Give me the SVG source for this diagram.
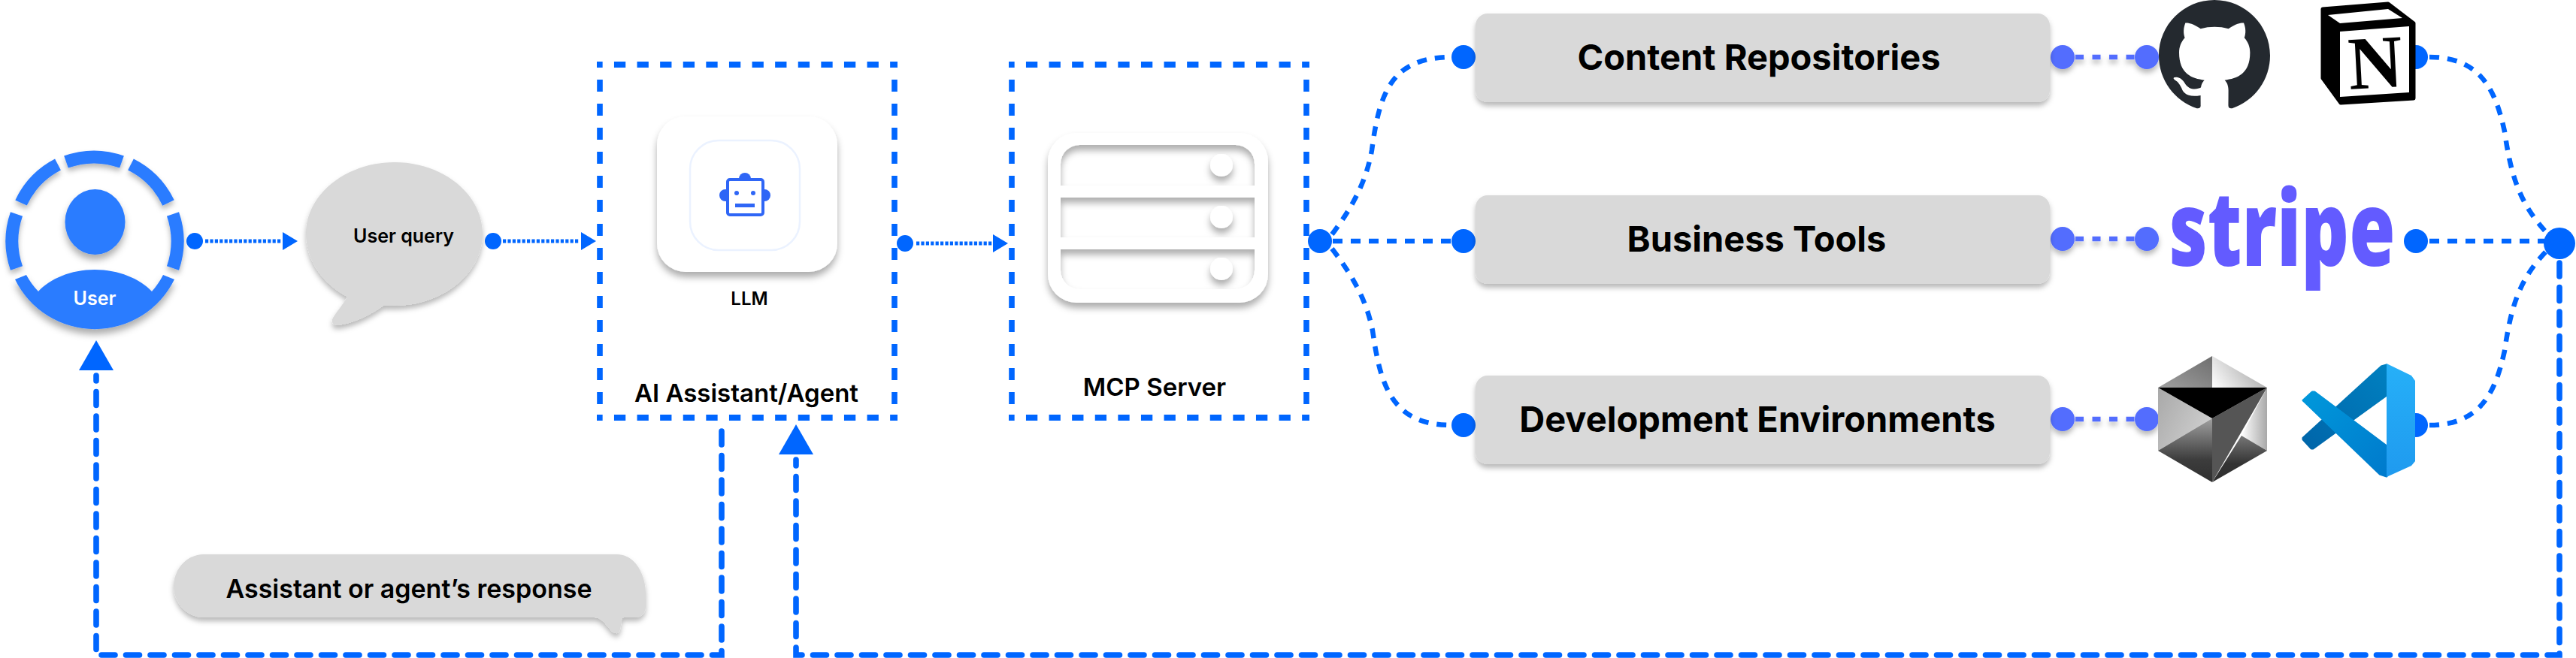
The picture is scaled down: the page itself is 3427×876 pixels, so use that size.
<svg xmlns="http://www.w3.org/2000/svg" width="3427" height="876" viewBox="0 0 3427 876">
<style>
text{font-family:Inter,"Liberation Sans",sans-serif;font-weight:600;fill:#000;text-anchor:middle}
.blue{fill:#0066ff}.ring{fill:none;stroke:#2b7bff;stroke-width:17}
.hd{fill:none;stroke:#0066ff;stroke-width:8;stroke-dasharray:15.3 15.3;stroke-dashoffset:7.65}
.vd{fill:none;stroke:#0066ff;stroke-width:7.6;stroke-dasharray:16 16}
.dot{fill:none;stroke:#0066ff;stroke-width:5;stroke-dasharray:4.2 2.2}
.curve{fill:none;stroke:#0066ff;stroke-width:6.5;stroke-dasharray:13 11}
.ret{fill:none;stroke:#0066ff;stroke-width:7.6;stroke-dasharray:18 14.5;stroke-linecap:round}
.pd{fill:#536dfe}.pl{fill:none;stroke:#536dfe;stroke-width:6.5;stroke-dasharray:11 11.5}
.gray{fill:#d9d9d9}
.h{font-size:47px;font-weight:700}.l{font-size:33px}
</style>
<defs>
<filter id="sh" x="-20%" y="-20%" width="140%" height="150%"><feDropShadow dx="0" dy="7" stdDeviation="5" flood-color="#000" flood-opacity=".32"/></filter>
<filter id="sm" x="-10%" y="-30%" width="120%" height="170%"><feDropShadow dx="0" dy="5" stdDeviation="3.5" flood-color="#000" flood-opacity=".28"/></filter>
<linearGradient id="g1" x1="1" y1="0" x2="0" y2="1"><stop offset="0" stop-color="#6e6e6e"/><stop offset="1" stop-color="#a0a0a0"/></linearGradient>
<linearGradient id="g2" x1="0" y1="1" x2="1" y2="0.6"><stop offset="0" stop-color="#fff"/><stop offset="1" stop-color="#a8a8a8"/></linearGradient>
<linearGradient id="g3" x1="0" y1="0" x2="1" y2="0.6"><stop offset="0" stop-color="#a8a8a8"/><stop offset="1" stop-color="#cfcfcf"/></linearGradient>
<linearGradient id="g4" x1="0" y1="0" x2="0" y2="1"><stop offset="0" stop-color="#a0a0a0"/><stop offset=".65" stop-color="#3c3c3c"/><stop offset="1" stop-color="#303030"/></linearGradient>
<linearGradient id="g5" x1="0" y1="0" x2="1" y2="0"><stop offset="0" stop-color="#fff"/><stop offset="1" stop-color="#a8a8a8"/></linearGradient>
<linearGradient id="g6" x1="0" y1="0" x2="0" y2="1"><stop offset="0" stop-color="#777"/><stop offset=".6" stop-color="#333"/><stop offset="1" stop-color="#2e2e2e"/></linearGradient>
<linearGradient id="v1" x1="1" y1="0" x2="0" y2="1"><stop offset="0" stop-color="#0080c0"/><stop offset="1" stop-color="#0065a9"/></linearGradient>
<linearGradient id="v2" x1="0" y1="0" x2="1" y2="1"><stop offset="0" stop-color="#0098db"/><stop offset="1" stop-color="#007acc"/></linearGradient>
<linearGradient id="v3" x1="0" y1="0" x2="0" y2="1"><stop offset="0" stop-color="#26b0f8"/><stop offset="1" stop-color="#1f9aef"/></linearGradient>
</defs>

<g id="connectors">
<path class="hd" d="M794 86H1194M794 556H1194M1342 86H1742M1342 556H1742"/>
<path class="vd" d="M798 106V540M1190 106V540M1346 106V540M1738 106V540"/>
<circle class="blue" cx="259" cy="321" r="11"/>
<path class="dot" d="M273 321H375"/><polygon class="blue" points="376,309 396,321 376,333"/>
<circle class="blue" cx="656" cy="321" r="11"/>
<path class="dot" d="M669 321H771"/><polygon class="blue" points="773,309 793,321 773,333"/>
<circle class="blue" cx="1204" cy="324" r="11"/>
<path class="dot" d="M1219 324H1320"/><polygon class="blue" points="1321,312 1341,324 1321,336"/>
<circle class="blue" cx="1756" cy="321" r="16"/>
<path class="curve" d="M1772 312C1800 275 1818 240 1825 200C1835 125 1850 76 1931 76"/>
<path class="curve" d="M1773 321H1931" stroke-dasharray="13 11"/>
<path class="curve" d="M1772 331C1800 368 1818 400 1826 440C1836 510 1850 566 1931 566"/>
<circle class="blue" cx="1947" cy="76" r="16"/><circle class="blue" cx="1947" cy="321" r="16"/><circle class="blue" cx="1947" cy="566" r="16"/>
<g filter="url(#sm)">
<path class="pl" d="M2761 76H2841M2761 318H2841M2761 558H2841"/>
<circle class="pd" cx="2744" cy="76" r="16"/><circle class="pd" cx="2744" cy="318" r="16"/><circle class="pd" cx="2744" cy="558" r="16"/>
<circle class="pd" cx="2856" cy="76" r="16"/><circle class="pd" cx="2856" cy="318" r="16"/><circle class="pd" cx="2856" cy="558" r="16"/>
</g>
<circle class="blue" cx="3214" cy="76" r="16"/><circle class="blue" cx="3214" cy="321" r="16"/><circle class="blue" cx="3214" cy="566" r="16"/>
<path class="curve" d="M3232 76C3300 76 3320 120 3332 175C3340 230 3350 270 3390 312" stroke-dasharray="12 12"/>
<path class="curve" d="M3232 321H3385" stroke-dasharray="12 12.3"/>
<path class="curve" d="M3232 566C3300 566 3320 522 3332 467C3340 412 3350 372 3390 332" stroke-dasharray="12 12"/>
<circle class="blue" cx="3405" cy="324" r="21"/>
<path class="ret" d="M3405 350V872H1059V612"/><polygon class="blue" points="1059,565 1082,605 1036,605"/>
<path class="ret" d="M960 574V872H128V500"/><polygon class="blue" points="128,453 151,493 105,493"/>
</g>

<g id="user">
<g filter="url(#sm)">
<path class="ring" d="M88 208A118 118 0 0 0 88 208"/>
<path class="ring" d="M88 215.5A110 110 0 0 1 162 215.5"/>
<path class="ring" d="M77 219A110 110 0 0 0 28 270"/>
<path class="ring" d="M174 219A110 110 0 0 1 224 270"/>
<path class="ring" d="M22 285A110 110 0 0 0 22 357"/>
<path class="ring" d="M230 285A110 110 0 0 1 230 357"/>
</g>
<ellipse cx="126.500" cy="295.500" rx="40" ry="43.500" fill="#2b7bff" filter="url(#sh)"/>
<path d="M20 372A118 118 0 0 0 232 372L217 366A101 101 0 0 1 202 388C186 371 158 359 126 359C94 359 67 371 51 388A101 101 0 0 1 35 366Z" fill="#2b7bff" filter="url(#sh)"/>
<text x="126" y="406" font-size="25" style="fill:#fff">User</text>
</g>

<g id="user-query">
<path class="gray" filter="url(#sm)" d="M407 311C407 259 460 216 525 216C590 216 642 259 642 311C642 363 590 407 525 407C520 407 515 407 510 407C495 418 470 431 449 433C443 433 440 429 443 423C450 412 458 403 462 395C430 378 407 347 407 311Z"/>
<text x="537" y="323" font-size="25">User query</text>
</g>

<g id="ai-agent">
<rect x="874" y="155" width="240" height="207" rx="38" fill="#fff" filter="url(#sh)"/>
<rect x="918" y="187" width="146" height="146" rx="38" fill="#fff" stroke="#ebf2ff" stroke-width="2.500"/>
<g id="llm-icon" fill="#2f66f6">
<circle cx="991" cy="238" r="8"/><circle cx="965" cy="260" r="8"/><circle cx="1017" cy="260" r="8"/>
<rect x="968" y="239" width="47" height="47" rx="3" fill="#fff" stroke="#2f66f6" stroke-width="4"/>
<circle cx="980" cy="257" r="3"/><circle cx="1002" cy="257" r="3"/><rect x="978" y="271" width="26" height="5"/>
</g>
<text x="997" y="406" font-size="24">LLM</text>
<text x="993" y="535" class="l">AI Assistant/Agent</text>
</g>

<g id="mcp-server">
<g filter="url(#sh)">
<path fill="#fff" fill-rule="evenodd" d="M1432 177H1649A38 38 0 0 1 1687 215V365A38 38 0 0 1 1649 403H1432A38 38 0 0 1 1394 365V215A38 38 0 0 1 1432 177ZM1436 193A25 25 0 0 0 1411 218V247H1669V218A25 25 0 0 0 1644 193ZM1411 263V316H1669V263ZM1411 332V360A25 25 0 0 0 1436 385H1644A25 25 0 0 0 1669 360V332Z"/>
<circle cx="1625" cy="220" r="15" fill="#fff"/><circle cx="1625" cy="289" r="15" fill="#fff"/><circle cx="1625" cy="358" r="15" fill="#fff"/>
</g>
<text x="1536" y="527" class="l">MCP Server</text>
</g>

<g id="content-repositories">
<rect class="gray" x="1963" y="18" width="764" height="118" rx="16" filter="url(#sm)"/>
<text x="2340" y="93" class="h">Content Repositories</text>
</g>
<g id="business-tools">
<rect class="gray" x="1963" y="260" width="764" height="118" rx="16" filter="url(#sm)"/>
<text x="2337" y="335" class="h">Business Tools</text>
</g>
<g id="development-environments">
<rect class="gray" x="1963" y="500" width="764" height="118" rx="16" filter="url(#sm)"/>
<text x="2338" y="575" class="h">Development Environments</text>
</g>

<g id="github">
<path transform="translate(2872 0) scale(9.25)" fill="#24292f" d="M8 0C3.58 0 0 3.58 0 8c0 3.54 2.29 6.53 5.47 7.59.4.07.55-.17.55-.38 0-.19-.01-.82-.01-1.49-2.01.37-2.53-.49-2.69-.94-.09-.23-.48-.94-.82-1.13-.28-.15-.68-.52-.01-.53.63-.01 1.08.58 1.23.82.72 1.21 1.87.87 2.33.66.07-.52.28-.87.51-1.07-1.78-.2-3.64-.89-3.64-3.95 0-.87.31-1.59.82-2.15-.08-.2-.36-1.02.08-2.12 0 0 .67-.21 2.2.82.64-.18 1.32-.27 2-.27.68 0 1.36.09 2 .27 1.53-1.04 2.2-.82 2.2-.82.44 1.1.16 1.92.08 2.12.51.56.82 1.27.82 2.15 0 3.07-1.87 3.75-3.65 3.95.29.25.54.73.54 1.48 0 1.07-.01 1.93-.01 2.2 0 .21.15.46.55.38A8.013 8.013 0 0016 8c0-4.42-3.58-8-8-8z"/>
</g>
<g id="notion">
<polygon points="3090,12 3177,5 3211,31 3211,131 3114,137 3090,104" fill="#000" stroke="#000" stroke-width="5" stroke-linejoin="round"/>
<polygon points="3113,42 3205,35 3205,123 3113,129" fill="#fff"/>
<polygon points="3097,20 3177,12 3196,24 3113,31" fill="#fff"/>
<text x="3160" y="117" transform="rotate(-3 3160 84)" style="font-family:'Liberation Serif',serif;font-weight:700;font-size:100px">N</text>
</g>
<g id="stripe">
<text x="3036" y="354" textLength="301" lengthAdjust="spacingAndGlyphs" style="font-family:'Open Sans',sans-serif;font-weight:800;font-size:139px;fill:#635bff">stripe</text>
</g>
<g id="hexagon">
<polygon points="2943,474 2871,516 2943,516" fill="url(#g1)"/>
<polygon points="2943,474 3016,516 2943,516" fill="url(#g2)"/>
<polygon points="2871,516 2943,557 2871,600" fill="url(#g3)"/>
<polygon points="2871,600 2943,557 2943,642" fill="url(#g4)"/>
<polygon points="3016,516 3016,600 2982,580" fill="url(#g5)"/>
<polygon points="3016,600 2982,580 2943,642" fill="url(#g6)"/>
<polygon points="2943,557 3016,516 2943,642" fill="#555"/>
<polygon points="2871,516 3016,516 2943,557" fill="#000"/>
</g>
<g id="vscode">
<polygon points="3168,488 3175,486 3175,526 3077,597 3075,597 3064,585 3064,583" fill="url(#v1)" stroke="url(#v1)" stroke-width="3" stroke-linejoin="round"/>
<polygon points="3064,533 3076,522 3079,522 3175,594 3175,634 3166,631" fill="url(#v2)" stroke="url(#v2)" stroke-width="3" stroke-linejoin="round"/>
<polygon points="3175,484 3208,500 3213,507 3213,614 3208,620 3175,635" fill="url(#v3)"/>
</g>

<g id="response">
<path class="gray" filter="url(#sm)" d="M271 738H821C845 738 859 765 859 790V808C859 816 853 822 845 822H830C827 822 827 826 826 833C825 839 824 844 819 843C815 843 812 838 804 829C797 821 790 822 786 822H271C247 822 231 800 231 780C231 760 247 738 271 738Z"/>
<text x="544" y="796" font-size="34">Assistant or agent’s response</text>
</g>
</svg>
